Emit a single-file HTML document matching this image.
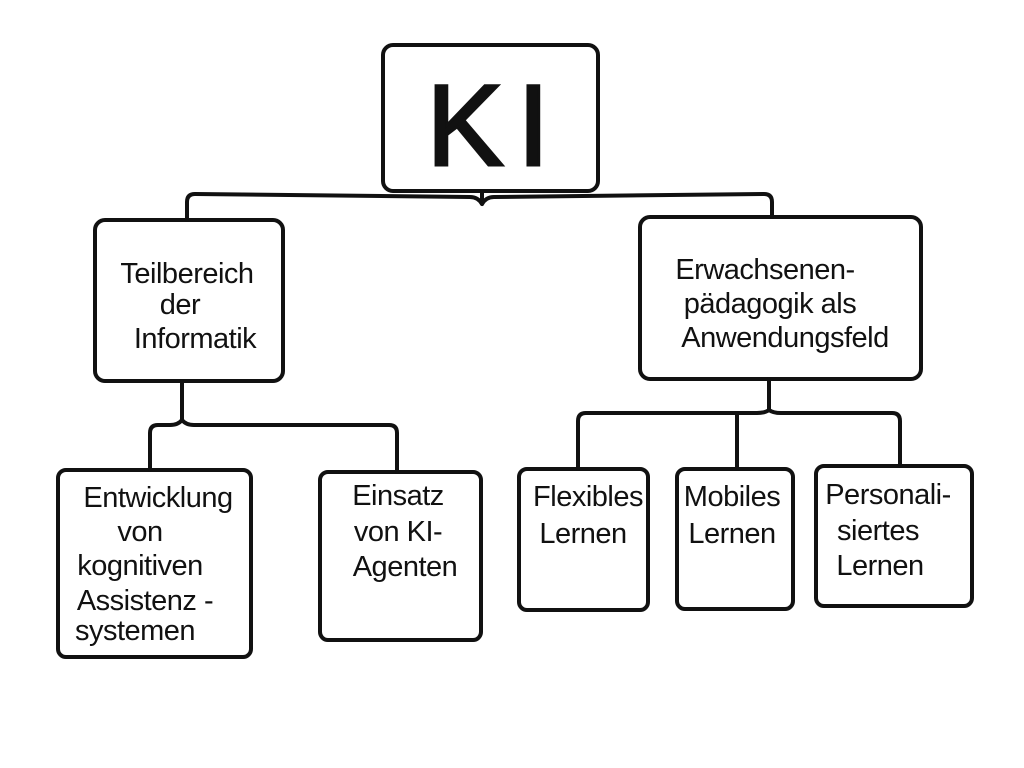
<!DOCTYPE html>
<html><head><meta charset="utf-8"><style>
html,body{margin:0;padding:0;background:#fff;width:1024px;height:768px;overflow:hidden}
svg text{font-family:"Liberation Sans",sans-serif;fill:#111}
</style></head><body>
<svg width="1024" height="768" viewBox="0 0 1024 768">
<g fill="none" stroke="#111" stroke-width="4" stroke-linecap="round" stroke-linejoin="round">
<rect x="383" y="45" width="215" height="146" rx="10"/>
<rect x="95" y="220" width="188" height="161" rx="10"/>
<rect x="640" y="217" width="281" height="162" rx="10"/>
<rect x="58" y="470" width="193" height="187" rx="8"/>
<rect x="320" y="472" width="161" height="168" rx="8"/>
<rect x="519" y="469" width="129" height="141" rx="8"/>
<rect x="677" y="469" width="116" height="140" rx="8"/>
<rect x="816" y="466" width="156" height="140" rx="8"/>
<path d="M482 191 L482 204 Q478 197 470 197 L195 194 Q187 194 187 202 L187 220"/>
<path d="M482 204 Q486 197 494 197 L764 194 Q772 194 772 202 L772 217"/>
<path d="M182 381 L182 420 Q178 425 170 425 L158 425 Q150 425 150 433 L150 470"/>
<path d="M182 420 Q186 425 194 425 L389 425 Q397 425 397 433 L397 472"/>
<path d="M769 379 L769 410 Q765 413 757 413 L586 413 Q578 413 578 421 L578 469"/>
<path d="M737 413 L737 469"/>
<path d="M769 410 Q773 413 781 413 L892 413 Q900 413 900 421 L900 466"/>
</g>
<text x="495" y="165" font-size="115" text-anchor="middle" stroke="#111" stroke-width="3" letter-spacing="14">KI</text>
<g font-size="29" text-anchor="middle" letter-spacing="-0.5">
<text x="187" y="283">Teilbereich</text>
<text x="180" y="314">der</text>
<text x="195" y="348">Informatik</text>
<text x="765" y="279">Erwachsenen-</text>
<text x="770" y="313">pädagogik als</text>
<text x="785" y="347">Anwendungsfeld</text>
<text x="158" y="507">Entwicklung</text>
<text x="140" y="541">von</text>
<text x="140" y="575">kognitiven</text>
<text x="145" y="610">Assistenz -</text>
<text x="135" y="640">systemen</text>
<text x="398" y="505">Einsatz</text>
<text x="398" y="541">von KI-</text>
<text x="405" y="576">Agenten</text>
<text x="588" y="506">Flexibles</text>
<text x="583" y="543">Lernen</text>
<text x="732" y="506">Mobiles</text>
<text x="732" y="543">Lernen</text>
<text x="888" y="504">Personali-</text>
<text x="878" y="540">siertes</text>
<text x="880" y="575">Lernen</text>
</g>
</svg>
</body></html>
